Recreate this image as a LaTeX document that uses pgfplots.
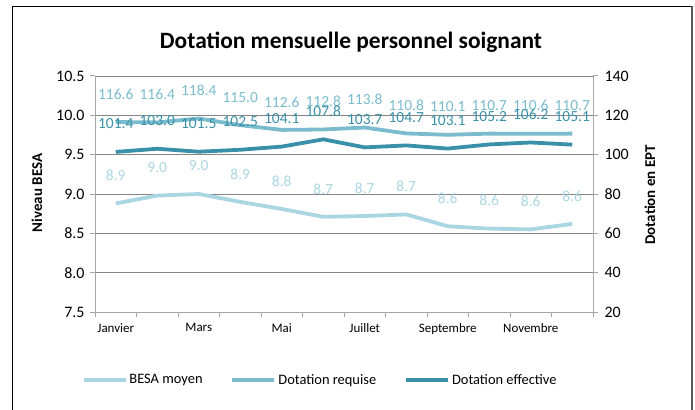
\documentclass[border=0pt]{standalone}
\usepackage{fontspec}
\setmainfont{Carlito}
\usepackage{pgfplots}
\pgfplotsset{compat=1.18}
\usepackage{pgfplotstable}

\definecolor{cbesa}{RGB}{170,214,226}
\definecolor{creq}{RGB}{122,188,206}
\definecolor{ceff}{RGB}{58,144,168}
\definecolor{cgrid}{RGB}{134,134,134}
\definecolor{caxis}{RGB}{166,166,166}

\pgfplotstableread{
x y lab
1 8.88 8.9
2 8.98 9.0
3 9.00 9.0
4 8.90 8.9
5 8.81 8.8
6 8.71 8.7
7 8.72 8.7
8 8.74 8.7
9 8.59 8.6
10 8.56 8.6
11 8.55 8.6
12 8.62 8.6
}\besa

\pgfplotstableread{
x y lab
1 116.6 116.6
2 116.4 116.4
3 118.4 118.4
4 115.0 115.0
5 112.6 112.6
6 112.8 112.8
7 113.8 113.8
8 110.8 110.8
9 110.1 110.1
10 110.7 110.7
11 110.6 110.6
12 110.7 110.7
}\requise

\pgfplotstableread{
x y lab
1 101.4 101.4
2 103.0 103.0
3 101.5 101.5
4 102.5 102.5
5 104.1 104.1
6 107.8 107.8
7 103.7 103.7
8 104.7 104.7
9 103.1 103.1
10 105.2 105.2
11 106.2 106.2
12 105.1 105.1
}\effective

\begin{document}
\begin{tikzpicture}[x=1bp,y=1bp]
\useasboundingbox (0,0) rectangle (695,409);
\begin{scope}
\clip (0,0) rectangle (695,409);
\draw[black, line width=1.5bp] (12.5,-5) -- (12.5,402.5) -- (692,402.5);
\draw[black!65, line width=1.5bp] (692,402.5) -- (692,-5);
\end{scope}

\node[font=\fontsize{23.5}{26}\selectfont\bfseries] at (351,367) {Dotation mensuelle personnel soignant};
\node[font=\fontsize{15}{18}\selectfont\bfseries, rotate=90] at (37,216) {Niveau BESA};
\node[font=\fontsize{15}{18}\selectfont\bfseries, rotate=90] at (650,214) {Dotation en EPT};

\begin{axis}[
  at={(95bp,97bp)}, anchor=south west,
  width=498bp, height=236bp, scale only axis,
  xmin=0.5, xmax=12.5, ymin=7.5, ymax=10.5,
  axis x line*=bottom, axis y line*=left,
  axis line style={caxis, line width=1bp},
  xtick={0.5,1.5,...,12.5}, xticklabels={},
  extra x ticks={1,3,5,7,9,11},
  extra x tick labels={Janvier,Mars,Mai,Juillet,Septembre,Novembre},
  extra x tick style={major tick length=0pt, grid=none},
  ytick={7.5,8,...,10.5},
  ymajorgrids, grid style={cgrid, line width=0.9bp},
  tick align=outside, major tick length=5bp,
  tick style={caxis, line width=1bp},
  x tick label style={font=\fontsize{13}{15}\selectfont, yshift=-8bp},
  y tick label style={font=\fontsize{16}{18}\selectfont, xshift=-2bp},
  yticklabel style={/pgf/number format/.cd, fixed, fixed zerofill, precision=1, assume math mode=true},
  clip=false,
]
\addplot[cbesa, line width=3.8bp,
  nodes near coords, point meta=explicit symbolic,
  every node near coord/.append style={anchor=center, yshift=28bp, text=cbesa, font=\fontsize{15.5}{18}\selectfont}]
  table[x=x, y=y, meta=lab] {\besa};
\end{axis}

\begin{axis}[
  at={(95bp,97bp)}, anchor=south west,
  width=498bp, height=236bp, scale only axis,
  xmin=0.5, xmax=12.5, ymin=20, ymax=140,
  axis x line=none, axis y line*=right,
  axis line style={caxis, line width=1bp},
  ytick={20,40,...,140},
  tick align=outside, major tick length=5bp,
  tick style={caxis, line width=1bp},
  y tick label style={font=\fontsize{16}{18}\selectfont, xshift=3bp, /pgf/number format/assume math mode=true},
  clip=false,
  legend columns=3,
  legend style={at={(0.452,-0.288)}, anchor=center, draw=none, fill=none,
    font=\fontsize{14.5}{17}\selectfont,
    nodes={inner sep=2bp},
    /tikz/every even column/.append style={column sep=26bp}},
  legend image code/.code={\draw[#1] (0bp,0bp) -- (42bp,0bp);},
]
\addlegendimage{cbesa, line width=3.8bp}
\addlegendentry{BESA moyen}
\addplot[creq, line width=3.8bp,
  nodes near coords, point meta=explicit symbolic,
  every node near coord/.append style={anchor=center, yshift=28bp, text=creq, font=\fontsize{15.5}{18}\selectfont}]
  table[x=x, y=y, meta=lab] {\requise};
\addlegendentry{Dotation requise}
\addplot[ceff, line width=3.8bp,
  nodes near coords, point meta=explicit symbolic,
  every node near coord/.append style={anchor=center, yshift=28bp, text=ceff, font=\fontsize{15.5}{18}\selectfont}]
  table[x=x, y=y, meta=lab] {\effective};
\addlegendentry{Dotation effective}
\end{axis}
\end{tikzpicture}
\end{document}
